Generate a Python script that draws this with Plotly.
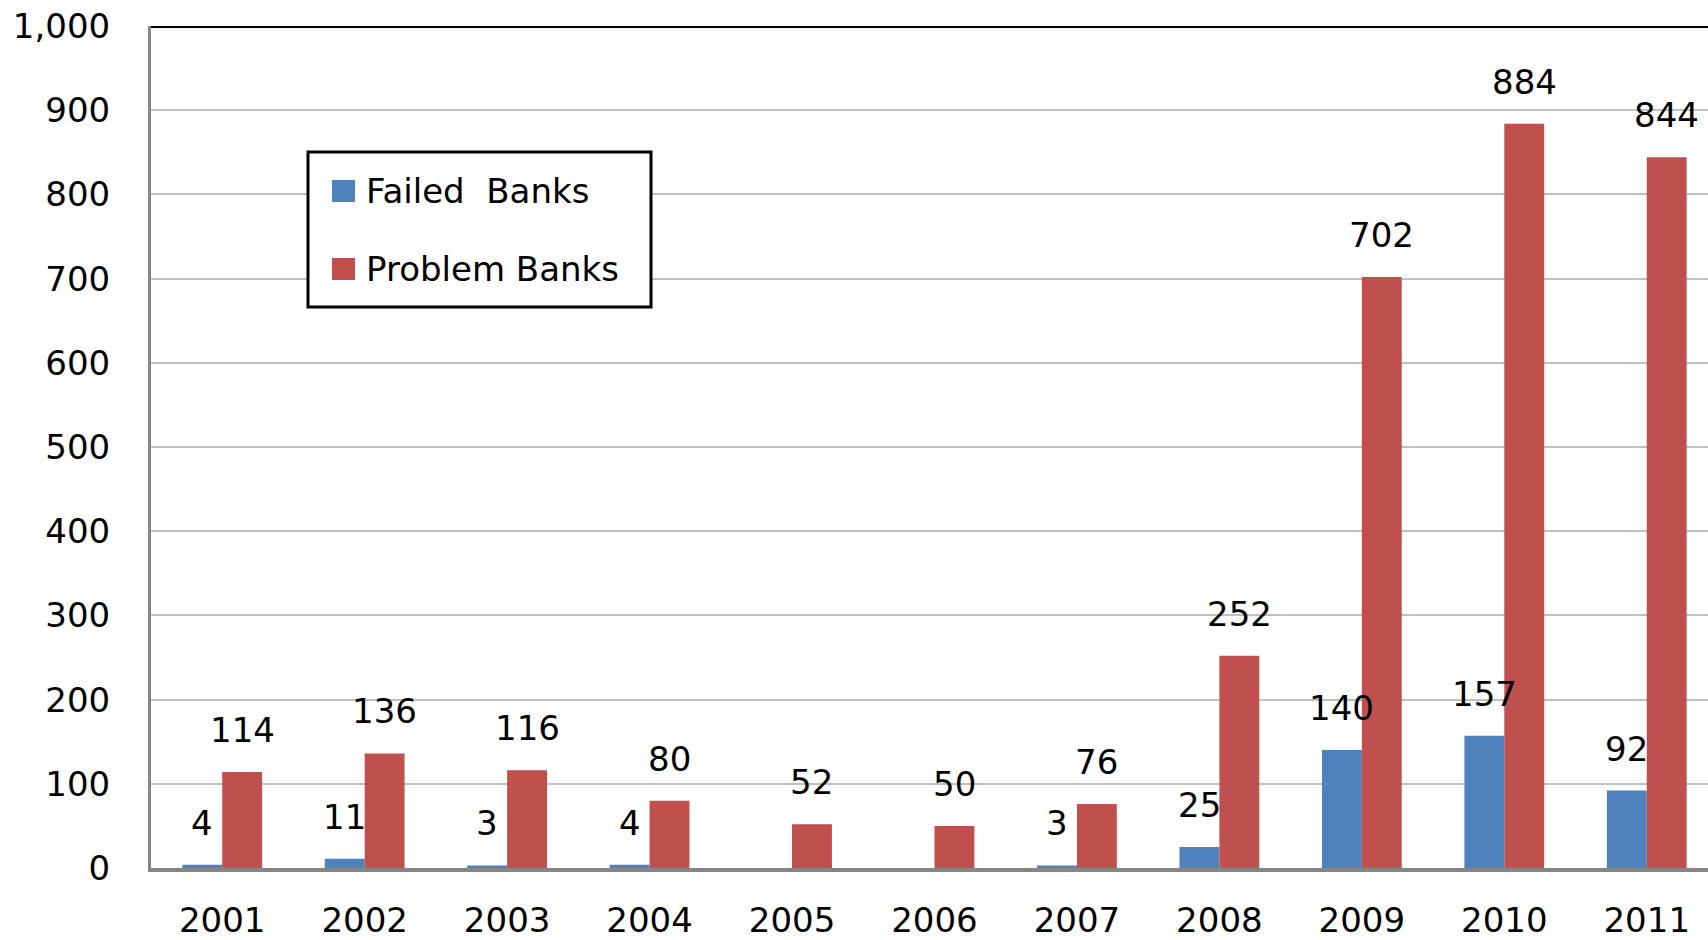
import plotly.graph_objects as go

years = ["2001", "2002", "2003", "2004", "2005", "2006", "2007", "2008", "2009", "2010", "2011"]
failed_banks = [4, 11, 3, 4, None, None, 3, 25, 140, 157, 92]
problem_banks = [114, 136, 116, 80, 52, 50, 76, 252, 702, 884, 844]
y_ticks = [0, 100, 200, 300, 400, 500, 600, 700, 800, 900, 1000]
y_tick_text = ["0", "100", "200", "300", "400", "500", "600", "700", "800", "900", "1,000"]

BLUE = "#4F81BD"
RED = "#C0504D"
FONT = "DejaVu Sans"
FS = 34

W_FIG, H_FIG = 1708, 940
L, R, T, B = 151, 0, 26, 72
PW = W_FIG - L - R
PH = H_FIG - T - B
XR = [-0.5, 10.43]
BARGAP = 0.44

def px(x):
    return (x - L) / PW

def py(y):
    return (H_FIG - B - y) / PH

band_px = PW / (XR[1] - XR[0])
bar_px = band_px * (1 - BARGAP) / 2

fig = go.Figure()
fig.add_trace(go.Bar(x=years, y=[v if v is not None else 0 for v in failed_banks],
                     name="Failed  Banks", marker=dict(color=BLUE, line=dict(width=0))))
fig.add_trace(go.Bar(x=years, y=problem_banks, name="Problem Banks",
                     marker=dict(color=RED, line=dict(width=0))))

annotations = []
for i, v in enumerate(failed_banks):
    if v is None:
        continue
    annotations.append(dict(x=i, y=v, xref="x", yref="y", text=str(v), showarrow=False,
                            xshift=-bar_px / 2, yshift=42, yanchor="middle",
                            font=dict(family=FONT, size=FS, color="black")))
for i, v in enumerate(problem_banks):
    annotations.append(dict(x=i, y=v, xref="x", yref="y", text=str(v), showarrow=False,
                            xshift=bar_px / 2, yshift=42, yanchor="middle",
                            font=dict(family=FONT, size=FS, color="black")))

# manual legend
shapes = [
    dict(type="line", xref="paper", yref="y", x0=0, x1=1, y0=1000, y1=1000,
         line=dict(color="black", width=4)),
    dict(type="rect", xref="paper", yref="paper", x0=px(308), x1=px(651), y0=py(152), y1=py(307),
         line=dict(color="black", width=3), fillcolor="white"),
    dict(type="rect", xref="paper", yref="paper", x0=px(332), x1=px(355), y0=py(180), y1=py(202),
         line=dict(width=0), fillcolor=BLUE),
    dict(type="rect", xref="paper", yref="paper", x0=px(332), x1=px(355), y0=py(258), y1=py(280),
         line=dict(width=0), fillcolor=RED),
]
annotations.append(dict(x=px(364), y=py(191), xref="paper", yref="paper", text="Failed\u00a0 Banks",
                        showarrow=False, xanchor="left", yanchor="middle",
                        font=dict(family=FONT, size=FS, color="black")))
annotations.append(dict(x=px(364), y=py(269), xref="paper", yref="paper", text="Problem Banks",
                        showarrow=False, xanchor="left", yanchor="middle",
                        font=dict(family=FONT, size=FS, color="black")))

fig.update_layout(
    width=W_FIG, height=H_FIG,
    margin=dict(l=L, r=R, t=T, b=B, autoexpand=False),
    paper_bgcolor="white", plot_bgcolor="white",
    barmode="group", bargap=BARGAP, bargroupgap=0,
    showlegend=False,
    font=dict(family=FONT, size=FS, color="black"),
    annotations=annotations,
    shapes=shapes,
    xaxis=dict(type="category", range=XR, showline=True, linecolor="#868686", linewidth=4,
               showgrid=False, zeroline=False, ticks="", tickfont=dict(family=FONT, size=FS, color="black"),
               ticklabelstandoff=19, automargin=False),
    yaxis=dict(range=[0, 1000], tickvals=y_ticks, ticktext=y_tick_text, showline=True,
               linecolor="#868686", linewidth=3, showgrid=True, gridcolor="#C0C0C0", gridwidth=2,
               zeroline=False, ticks="", tickfont=dict(family=FONT, size=FS, color="black"),
               ticklabelstandoff=31, automargin=False),
)

fig.write_html("out.html")
